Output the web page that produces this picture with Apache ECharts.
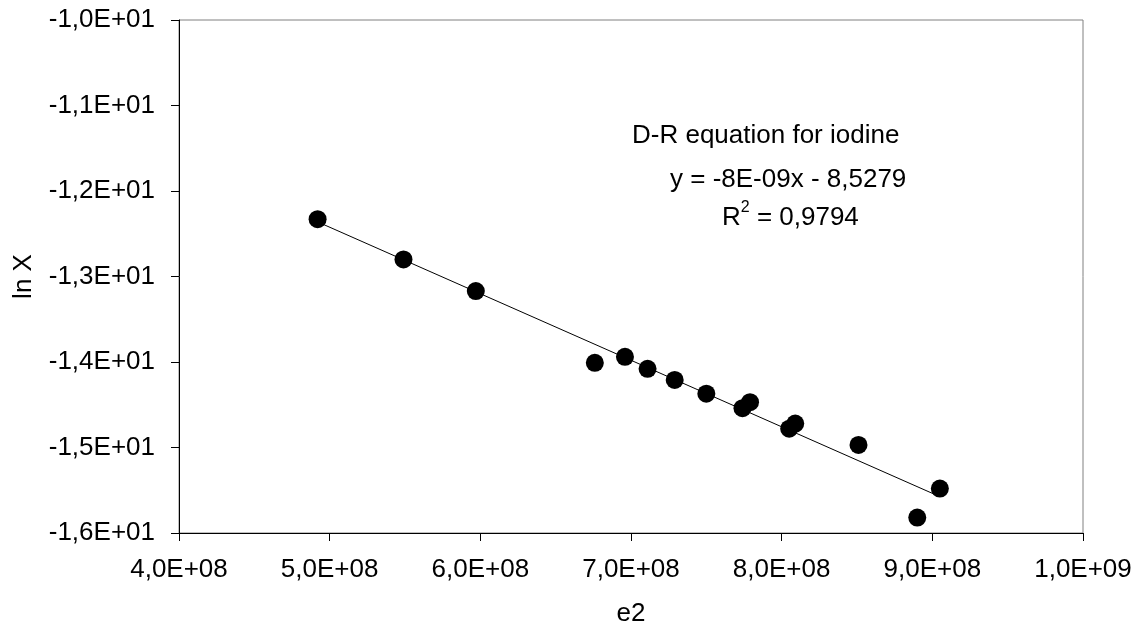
<!DOCTYPE html>
<html>
<head>
<meta charset="utf-8">
<script src="https://cdn.jsdelivr.net/npm/echarts@6/dist/echarts.min.js"></script>
<style>
html, body { margin: 0; padding: 0; background: #fff; }
#chart { width: 1138px; height: 632px; }
</style>
</head>
<body>
<div id="chart"></div>
<script>
// e2 values (x) and ln X values (y)
var e2Values = [4.92e8, 5.49e8, 5.97e8, 6.76e8, 6.96e8, 7.11e8, 7.29e8, 7.50e8, 7.74e8, 7.79e8, 8.05e8, 8.09e8, 8.51e8, 8.90e8, 9.05e8];
var lnXValues = [-12.33, -12.80, -13.17, -14.01, -13.94, -14.08, -14.21, -14.37, -14.54, -14.47, -14.78, -14.72, -14.97, -15.82, -15.48];
var eqTitle = 'D-R equation for iodine';
var eqLine = 'y = -8E-09x - 8,5279';
var r2Value = '0,9794';

var font = '"Liberation Sans", Arial, sans-serif';
var fs = 26;

// excel style number format: -1,0E+01
function sci(v) {
    if (v === 0) return '0,0E+00';
    var s = v.toExponential(1).split('e');
    var exp = parseInt(s[1], 10);
    var sign = exp < 0 ? '-' : '+';
    var e = Math.abs(exp);
    return s[0].replace('.', ',') + 'E' + sign + (e < 10 ? '0' + e : e);
}

// linear trendline (least squares), drawn over the data range
var n = e2Values.length, sx = 0, sy = 0, sxx = 0, sxy = 0;
for (var i = 0; i < n; i++) {
    sx += e2Values[i]; sy += lnXValues[i];
    sxx += e2Values[i] * e2Values[i]; sxy += e2Values[i] * lnXValues[i];
}
var slope = (n * sxy - sx * sy) / (n * sxx - sx * sx);
var icpt = (sy - slope * sx) / n;
var xMin = Math.min.apply(null, e2Values), xMax = Math.max.apply(null, e2Values);
var trend = [[xMin, slope * xMin + icpt], [xMax, slope * xMax + icpt]];

var points = e2Values.map(function (x, i) { return [x, lnXValues[i]]; });

var myChart = echarts.init(document.getElementById('chart'));
var option = {
    animation: false,
    backgroundColor: '#fff',
    grid: {
        left: 179, right: 55, top: 20, bottom: 97,
        show: true, borderColor: '#808080', borderWidth: 1
    },
    xAxis: {
        type: 'value',
        min: 4e8, max: 1e9, interval: 1e8,
        name: 'e2', nameLocation: 'middle', nameGap: 68,
        nameTextStyle: { fontFamily: font, fontSize: fs, color: '#000' },
        axisLine: { lineStyle: { color: '#000', width: 1 } },
        axisTick: { show: true, inside: false, length: 8, lineStyle: { color: '#000' } },
        axisLabel: { fontFamily: font, fontSize: fs, color: '#000', margin: 24, formatter: sci },
        splitLine: { show: false }
    },
    yAxis: {
        type: 'value',
        min: -16, max: -10, interval: 1,
        name: 'ln X', nameLocation: 'middle', nameGap: 142, nameRotate: 90,
        nameTextStyle: { fontFamily: font, fontSize: fs, color: '#000' },
        axisLine: { show: true, lineStyle: { color: '#000', width: 1 } },
        axisTick: { show: true, inside: false, length: 8, lineStyle: { color: '#000' } },
        axisLabel: { fontFamily: font, fontSize: fs, color: '#000', margin: 24, formatter: sci },
        splitLine: { show: false }
    },
    series: [
        {
            type: 'line',
            data: trend,
            showSymbol: false,
            lineStyle: { color: '#000', width: 1 },
            z: 2
        },
        {
            type: 'scatter',
            data: points,
            symbol: 'circle',
            symbolSize: 18,
            itemStyle: { color: '#000', opacity: 1 },
            z: 3
        }
    ],
    graphic: [
        { type: 'text', left: 632, top: 123, style: { text: eqTitle, font: fs + 'px ' + font, fill: '#000' } },
        { type: 'text', left: 670, top: 167, style: { text: eqLine, font: fs + 'px ' + font, fill: '#000' } },
        {
            type: 'text', left: 722, top: 200,
            style: {
                text: '{a|R}{s|2}{a| = ' + r2Value + '}',
                rich: {
                    a: { fontFamily: font, fontSize: fs, fill: '#000', color: '#000', verticalAlign: 'bottom', lineHeight: 31 },
                    s: { fontFamily: font, fontSize: 16, fill: '#000', color: '#000', verticalAlign: 'top', lineHeight: 31 }
                }
            }
        }
    ]
};
myChart.setOption(option);
</script>
</body>
</html>
